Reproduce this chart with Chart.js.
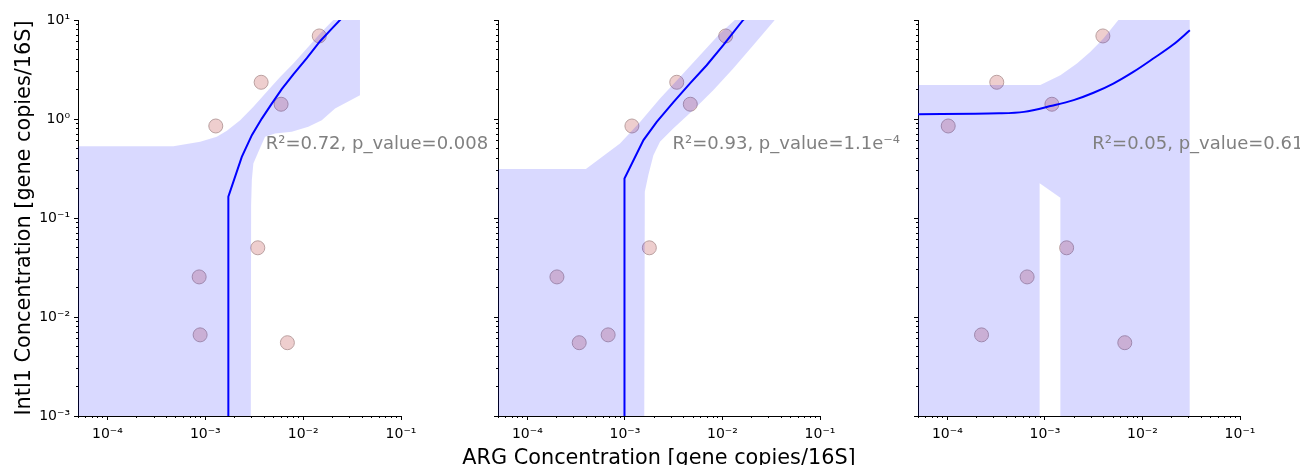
<!DOCTYPE html>
<html>
<head>
<meta charset="utf-8">
<script src="https://cdn.jsdelivr.net/npm/chart.js@4.4.1/dist/chart.umd.min.js"></script>
<style>
  html, body { margin: 0; padding: 0; background: #ffffff; }
  #wrap { position: relative; width: 1300px; height: 465px; overflow: hidden; background: #ffffff; }
  #wrap canvas { position: absolute; left: 0; top: 0; }
</style>
</head>
<body>
<div id="wrap">
  <canvas id="panelA" width="1300" height="465"></canvas>
  <canvas id="panelB" width="1300" height="465"></canvas>
  <canvas id="panelC" width="1300" height="465"></canvas>
</div>
<script>
// ---- axis ranges and decade ticks ----
const X_MIN = 5e-5, X_MAX = 1e-1;
const Y_MIN = 1e-3, Y_MAX = 10;
const xDecades = [1e-4, 1e-3, 1e-2, 1e-1];
const yDecades = [1e-3, 1e-2, 1e-1, 1, 10];

// ---- samples: IntI1 level (same for every panel) ----
const intl1 = [6.9, 2.35, 1.41, 0.85, 0.050, 0.0254, 0.0066, 0.0055];

// ARG level of each sample, one list per gene panel
const argA = [1.46e-2, 3.72e-3, 5.95e-3, 1.28e-3, 3.44e-3, 8.65e-4, 8.85e-4, 6.9e-3];
const argB = [1.08e-2, 3.40e-3, 4.68e-3, 1.18e-3, 1.78e-3, 2.01e-4, 6.73e-4, 3.40e-4];
const argC = [3.93e-3, 3.21e-4, 1.18e-3, 1.02e-4, 1.67e-3, 6.57e-4, 2.24e-4, 6.59e-3];

// ---- regression lines [x, y] ----
const fitA = [[1.72e-3, 1e-3], [1.72e-3, 0.164], [2.36e-3, 0.415], [2.99e-3, 0.687], [3.78e-3, 1.01],
              [4.78e-3, 1.43], [6.04e-3, 2.0], [7.94e-3, 2.83], [1.09e-2, 4.11], [1.49e-2, 6.1],
              [1.9e-2, 7.9], [2.38e-2, 10], [2.6e-2, 10.9]];
const fitB = [[0.99e-3, 1e-3], [0.99e-3, 0.251], [1.55e-3, 0.612], [2.12e-3, 0.935], [3.13e-3, 1.47],
              [4.65e-3, 2.29], [6.89e-3, 3.49], [1.02e-2, 5.56], [1.63e-2, 10], [1.8e-2, 11]];
const fitC = [[5e-5, 1.12], [3.4e-4, 1.14], [6.1e-4, 1.18], [1.18e-3, 1.36], [1.97e-3, 1.55],
              [3.15e-3, 1.84], [5.03e-3, 2.28], [8.06e-3, 2.99], [1.29e-2, 4.08], [2.07e-2, 5.65],
              [3.06e-2, 7.87]];

// ---- confidence bands: upper and lower edges [x, y] ----
const bandUpperA = [[5e-5, 0.532], [4.71e-4, 0.532], [8.85e-4, 0.589], [1.31e-3, 0.661], [1.66e-3, 0.759],
                    [2.27e-3, 0.974], [3.10e-3, 1.33], [4.25e-3, 1.88], [5.81e-3, 2.66], [7.94e-3, 3.63],
                    [1.09e-2, 5.15], [1.49e-2, 7.30], [2.03e-2, 10], [3.81e-2, 10]];
const bandLowerA = [[5e-5, 1e-3], [2.92e-3, 1e-3], [2.94e-3, 0.135], [2.99e-3, 0.242], [3.10e-3, 0.356],
                    [3.49e-3, 0.467], [4.08e-3, 0.661], [5.17e-3, 0.714], [7.65e-3, 0.742], [1.13e-2, 0.834],
                    [1.55e-2, 0.974], [2.12e-2, 1.28], [3.81e-2, 1.74]];
const bandUpperB = [[5e-5, 0.312], [3.98e-4, 0.312], [8.9e-4, 0.566], [1.43e-3, 0.935], [2.29e-3, 1.61],
                    [3.67e-3, 2.66], [5.88e-3, 4.40], [9.42e-3, 7.30], [1.34e-2, 10], [3.44e-2, 10]];
const bandLowerB = [[5e-5, 1e-3], [1.58e-3, 1e-3], [1.6e-3, 0.184], [1.74e-3, 0.272], [1.96e-3, 0.431],
                    [2.29e-3, 0.589], [3.13e-3, 0.804], [5.03e-3, 1.23], [8.05e-3, 1.95], [1.29e-2, 3.24],
                    [2.07e-2, 5.56], [3.44e-2, 10]];
const bandUpperC = [[5e-5, 2.2], [8.97e-4, 2.2], [1.44e-3, 2.77], [2.13e-3, 3.63], [2.91e-3, 4.76],
                    [3.98e-3, 6.49], [5.66e-3, 10], [3.06e-2, 10]];
const bandLowerC = [[5e-5, 1e-3], [8.83e-4, 1e-3], [8.83e-4, 0.224], [1.44e-3, 0.160], [1.44e-3, 1e-3],
                    [3.06e-2, 1e-3]];

// ---- fit statistics shown in each panel ----
const statsText = ['R²=0.72, p_value=0.008', 'R²=0.93, p_value=1.1e⁻⁴', 'R²=0.05, p_value=0.61'];

// ---- axis titles ----
const xTitleText = 'ARG Concentration [gene copies/16S]';
const yTitleText = 'Intl1 Concentration [gene copies/16S]';

// ---- styling ----
const FONT = "'DejaVu Sans', sans-serif";
const BAND = 'rgba(0, 0, 255, 0.15)';
const LINE = '#0000ff';
const DOT_FILL = 'rgb(238, 206, 206)';
const DOT_EDGE = 'rgb(186, 160, 160)';
Chart.defaults.font.family = FONT;

const SUP = { '-': '⁻', '0': '⁰', '1': '¹', '2': '²', '3': '³', '4': '⁴', '5': '⁵', '6': '⁶', '7': '⁷', '8': '⁸', '9': '⁹' };
function powerLabel(v) {
  const e = Math.round(Math.log10(v));
  return '10' + String(e).split('').map(c => SUP[c]).join('');
}
function minorTicks(lo, hi) {
  const out = [];
  for (let e = Math.floor(Math.log10(lo)); e < Math.ceil(Math.log10(hi)); e++) {
    for (let m = 2; m <= 9; m++) {
      const v = m * Math.pow(10, e);
      if (v >= lo * 0.999 && v <= hi * 1.001) out.push(v);
    }
  }
  return out;
}
const xMinor = minorTicks(X_MIN, X_MAX);
const yMinor = minorTicks(Y_MIN, Y_MAX);
const toXY = pairs => pairs.map(([x, y]) => ({ x, y }));

// statistics text inside the plot, plus the shared axis titles (drawn without width squeezing)
const textPlugin = {
  id: 'panelText',
  afterDraw(chart, args, opts) {
    const a = chart.chartArea, ctx = chart.ctx;
    ctx.save();
    ctx.font = '18px ' + FONT;
    ctx.fillStyle = '#808080';
    ctx.textAlign = 'left';
    ctx.textBaseline = 'alphabetic';
    ctx.fillText(opts.text, a.left + opts.fx * (a.right - a.left), a.top + opts.fy * (a.bottom - a.top));

    ctx.fillStyle = '#000000';
    ctx.font = '20.8px ' + FONT;
    ctx.textAlign = 'center';
    if (opts.xTitle) {
      ctx.fillText(opts.xTitle, (a.left + a.right) / 2, 463.5);
    }
    if (opts.yTitle) {
      ctx.translate(30, (a.top + a.bottom) / 2);
      ctx.rotate(-Math.PI / 2);
      ctx.fillText(opts.yTitle, 0, 0);
    }
    ctx.restore();
  }
};

function makePanel(id, p) {
  const setTicks = list => scale => { scale.ticks = list.map(v => ({ value: v })); };
  return new Chart(document.getElementById(id), {
    type: 'line',
    data: {
      datasets: [
        { data: toXY(p.upper), fill: '+1', backgroundColor: BAND, borderWidth: 0,
          borderColor: 'rgba(0,0,0,0)', pointRadius: 0, order: 2 },
        { data: toXY(p.lower), fill: false, borderWidth: 0,
          borderColor: 'rgba(0,0,0,0)', pointRadius: 0, order: 2 },
        { data: p.arg.map((x, i) => ({ x, y: intl1[i] })), showLine: false, pointRadius: 7,
          pointBackgroundColor: DOT_FILL, pointBorderColor: DOT_EDGE, pointBorderWidth: 1, order: 3 },
        { data: toXY(p.fit), fill: false, borderColor: LINE, borderWidth: 2, pointRadius: 0,
          tension: 0, cubicInterpolationMode: p.smooth ? 'monotone' : 'default', order: 1 }
      ]
    },
    options: {
      responsive: false,
      animation: false,
      devicePixelRatio: 1,
      events: [],
      layout: { padding: { left: p.padLeft, right: p.padRight, top: 20, bottom: 0 } },
      plugins: {
        legend: { display: false },
        tooltip: { enabled: false },
        filler: { drawTime: 'beforeDatasetDraw' },
        panelText: { text: p.text, fx: p.fx, fy: 0.3265, xTitle: p.xTitle, yTitle: p.yTitle }
      },
      scales: {
        x: {
          type: 'logarithmic', position: 'bottom', min: X_MIN, max: X_MAX, bounds: 'data', weight: 1,
          afterBuildTicks: setTicks(xDecades),
          afterFit: s => { s.height = 49; },
          grid: { drawOnChartArea: false, drawTicks: true, tickLength: 4, tickColor: '#000', tickWidth: 1 },
          border: { display: true, color: '#000', width: 1 },
          ticks: { autoSkip: false, maxRotation: 0, padding: 6, color: '#000',
                   font: { size: 14 }, callback: v => powerLabel(v) }
        },
        xm: {
          type: 'logarithmic', axis: 'x', position: 'bottom', min: X_MIN, max: X_MAX, bounds: 'data', weight: 0,
          afterBuildTicks: setTicks(xMinor),
          afterFit: s => { s.height = 0; },
          grid: { drawOnChartArea: false, drawTicks: true, tickLength: 2, tickColor: '#000', tickWidth: 1 },
          border: { display: false },
          ticks: { display: false, autoSkip: false }
        },
        y: {
          type: 'logarithmic', position: 'left', min: Y_MIN, max: Y_MAX, bounds: 'data', weight: 1,
          afterBuildTicks: setTicks(yDecades),
          afterFit: s => { s.width = p.yWidth; },
          grid: { drawOnChartArea: false, drawTicks: true, tickLength: 4, tickColor: '#000', tickWidth: 1 },
          border: { display: true, color: '#000', width: 1 },
          ticks: { display: p.yLabels, autoSkip: false, padding: 4, color: '#000',
                   font: { size: 14 }, callback: v => powerLabel(v) }
        },
        ym: {
          type: 'logarithmic', axis: 'y', position: 'left', min: Y_MIN, max: Y_MAX, bounds: 'data', weight: 0,
          afterBuildTicks: setTicks(yMinor),
          afterFit: s => { s.width = 0; },
          grid: { drawOnChartArea: false, drawTicks: true, tickLength: 2, tickColor: '#000', tickWidth: 1 },
          border: { display: false },
          ticks: { display: false, autoSkip: false }
        }
      }
    },
    plugins: [textPlugin]
  });
}

makePanel('panelA', {
  arg: argA, fit: fitA, upper: bandUpperA, lower: bandLowerA, text: statsText[0], fx: 0.581,
  padLeft: 0, padRight: 899, yWidth: 78, yLabels: true, yTitle: yTitleText
});
makePanel('panelB', {
  arg: argB, fit: fitB, upper: bandUpperB, lower: bandLowerB, text: statsText[1], fx: 0.542,
  padLeft: 440, padRight: 480, yWidth: 58, yLabels: false, xTitle: xTitleText
});
makePanel('panelC', {
  arg: argC, fit: fitC, upper: bandUpperC, lower: bandLowerC, text: statsText[2], fx: 0.5415,
  padLeft: 860, padRight: 60, yWidth: 58, yLabels: false, smooth: true
});
</script>
</body>
</html>
